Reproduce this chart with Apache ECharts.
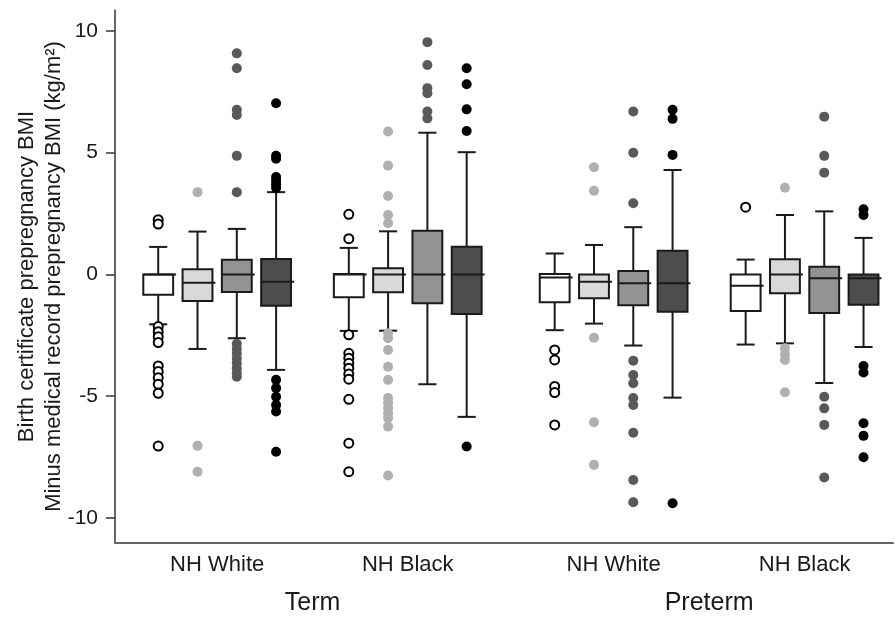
<!DOCTYPE html>
<html>
<head>
<meta charset="utf-8">
<script src="https://cdn.jsdelivr.net/npm/echarts@6/dist/echarts.min.js"></script>
<style>
  html, body { margin: 0; padding: 0; background: #fff; }
  #chartDom { width: 895px; height: 617px; }
</style>
</head>
<body>
<div id="chartDom"></div>
<script>
// categories
const groupNames = ["NH White", "NH Black", "NH White", "NH Black"];
const periodNames = ["Term", "Preterm"];
const yTicks = [-10, -5, 0, 5, 10];

// box stats per group: [low whisker, q1, median, q3, high whisker]
const whiteBox = [[-2.05, -0.83, 0, 0, 1.13], [-2.32, -0.94, 0, 0.02, 1.09], [-2.29, -1.14, -0.13, 0.02, 0.86], [-2.88, -1.5, -0.47, 0, 0.61]];
const lightBox = [[-3.06, -1.09, -0.34, 0.21, 1.76], [-2.31, -0.73, 0, 0.25, 1.77], [-2.02, -0.98, -0.3, 0, 1.21], [-2.83, -0.77, 0, 0.62, 2.44]];
const midBox = [[-2.62, -0.72, 0, 0.6, 1.87], [-4.51, -1.18, 0, 1.79, 5.82], [-2.92, -1.27, -0.36, 0.14, 1.94], [-4.46, -1.58, -0.16, 0.32, 2.59]];
const darkBox = [[-3.92, -1.29, -0.3, 0.63, 3.38], [-5.85, -1.62, 0, 1.14, 5.02], [-5.06, -1.53, -0.36, 0.97, 4.29], [-2.98, -1.25, -0.16, 0, 1.5]];

// outliers per group
const whiteOut = [
  [2.25, 2.07, -2.14, -2.35, -2.56, -2.8, -3.76, -3.99, -4.24, -4.51, -4.88, -7.05],
  [2.47, 1.47, -2.48, -3.24, -3.44, -3.65, -3.85, -4.09, -4.3, -5.13, -6.93, -8.1],
  [-3.1, -3.51, -4.6, -4.85, -6.18],
  [2.76]
];
const lightOut = [
  [3.38, -7.04, -8.1],
  [5.87, 4.47, 3.22, 2.44, 2.1, -2.42, -2.62, -3.1, -3.79, -4.33, -5.08, -5.29, -5.49, -5.7, -5.9, -6.25, -8.26],
  [4.4, 3.44, -2.6, -6.07, -7.82],
  [3.56, -3.03, -3.27, -3.51, -4.84]
];
const midOut = [
  [9.08, 8.47, 6.76, 6.55, 4.87, 3.38, -2.85, -3.05, -3.25, -3.45, -3.65, -3.85, -4.05, -4.2],
  [9.54, 8.6, 7.65, 7.44, 6.69, 6.41],
  [6.69, 5.0, 2.92, -3.54, -4.13, -4.47, -5.08, -5.36, -6.5, -8.44, -9.36],
  [6.48, 4.87, 4.18, -5.02, -5.5, -6.18, -8.34]
];
const darkOut = [
  [7.03, 4.87, 4.75, 4.0, 3.85, 3.7, 3.55, -4.33, -4.67, -5.02, -5.36, -5.63, -7.28],
  [8.47, 7.81, 6.78, 5.89, -7.07],
  [6.76, 6.39, 4.91, -9.4],
  [2.68, 2.44, -3.76, -4.03, -6.11, -6.63, -7.51]
];

// 布局
const GROUP_X = [2.6, 7.45, 12.69, 17.55];
const PERIOD_X = [5.03, 15.12];
const BOX_W = 0.76;
const CAP_W = 0.46;
const FONT = "Liberation Sans, Arial, sans-serif";

const kinds = [
  { box: whiteBox, out: whiteOut, fill: "#ffffff", dot: "#ffffff", border: "#000" },
  { box: lightBox, out: lightOut, fill: "#d9d9d9", dot: "#b0b0b0" },
  { box: midBox, out: midOut, fill: "#939393", dot: "#595959" },
  { box: darkBox, out: darkOut, fill: "#4d4d4d", dot: "#000000" },
];

function renderBox(params, api) {
  const x = api.value(0);
  const lo = api.coord([x, api.value(1)]);
  const q1 = api.coord([x, api.value(2)]);
  const md = api.coord([x, api.value(3)]);
  const q3 = api.coord([x, api.value(4)]);
  const hi = api.coord([x, api.value(5)]);
  const hw = api.size([BOX_W, 0])[0] / 2;
  const cw = api.size([CAP_W, 0])[0] / 2;
  const cx = lo[0];
  const line = { stroke: "#1a1a1a", lineWidth: 2 };
  return {
    type: "group",
    children: [
      { type: "line", shape: { x1: cx, y1: hi[1], x2: cx, y2: q3[1] }, style: line },
      { type: "line", shape: { x1: cx, y1: q1[1], x2: cx, y2: lo[1] }, style: line },
      { type: "line", shape: { x1: cx - cw, y1: hi[1], x2: cx + cw, y2: hi[1] }, style: line },
      { type: "line", shape: { x1: cx - cw, y1: lo[1], x2: cx + cw, y2: lo[1] }, style: line },
      {
        type: "rect",
        shape: { x: cx - hw, y: q3[1], width: hw * 2, height: q1[1] - q3[1] },
        style: { fill: api.visual("color"), stroke: "#1a1a1a", lineWidth: 2 },
      },
      { type: "line", shape: { x1: cx - hw, y1: md[1], x2: cx + hw + 3, y2: md[1] }, style: line },
    ],
  };
}

const series = [];
kinds.forEach((k, i) => {
  const off = i - 1.5;
  series.push({
    type: "custom",
    renderItem: renderBox,
    itemStyle: { color: k.fill },
    encode: { x: 0, y: [1, 2, 3, 4, 5] },
    data: k.box.map((s, g) => [GROUP_X[g] + off].concat(s)),
    z: 2,
  });
});
kinds.forEach((k, i) => {
  const off = i - 1.5;
  const pts = [];
  k.out.forEach((vals, g) => vals.forEach((v) => pts.push([GROUP_X[g] + off, v])));
  series.push({
    type: "scatter",
    symbol: "circle",
    symbolSize: k.border ? 9 : 10,
    itemStyle: k.border
      ? { color: k.dot, borderColor: k.border, borderWidth: 2, opacity: 1 }
      : { color: k.dot, opacity: 1 },
    data: pts,
    z: 3,
  });
});

function nearest(list, names, v) {
  let best = 0;
  list.forEach((p, i) => { if (Math.abs(p - v) < Math.abs(list[best] - v)) best = i; });
  return names[best];
}

const chart = echarts.init(document.getElementById("chartDom"));
chart.setOption({
  animation: false,
  backgroundColor: "#fff",
  grid: { left: 115, right: 2, top: 10, bottom: 74, outerBoundsMode: "none", containLabel: false },
  xAxis: [
    {
      type: "value", min: 0, max: 19.8,
      axisLine: { show: true, onZero: false, lineStyle: { color: "#666", width: 2 } },
      axisTick: { show: false },
      splitLine: { show: false },
      axisLabel: {
        customValues: GROUP_X, margin: 11, fontSize: 22, color: "#1a1a1a", fontFamily: FONT,
        formatter: (v) => nearest(GROUP_X, groupNames, v),
      },
    },
    {
      type: "value", min: 0, max: 19.8, position: "bottom",
      axisLine: { show: false }, axisTick: { show: false }, splitLine: { show: false },
      axisLabel: {
        customValues: PERIOD_X, margin: 48, fontSize: 25, color: "#1a1a1a", fontFamily: FONT,
        formatter: (v) => nearest(PERIOD_X, periodNames, v),
      },
    },
  ],
  yAxis: {
    type: "value", min: -11.03, max: 10.86,
    axisLine: { show: true, onZero: false, lineStyle: { color: "#333", width: 1.5 } },
    axisTick: { show: true, customValues: yTicks, length: 9, lineStyle: { color: "#333", width: 1.5 } },
    splitLine: { show: false },
    axisLabel: { customValues: yTicks, margin: 17, fontSize: 21, color: "#1a1a1a", fontFamily: FONT },
    name: "Birth certificate prepregnancy BMI\nMinus medical record prepregnancy BMI (kg/m\u00B2)",
    nameLocation: "middle",
    nameRotate: 90,
    nameGap: 48,
    nameMoveOverlap: false,
    nameTextStyle: { fontSize: 22, lineHeight: 27, color: "#1a1a1a", fontFamily: FONT },
  },
  series: series,
});
</script>
</body>
</html>
